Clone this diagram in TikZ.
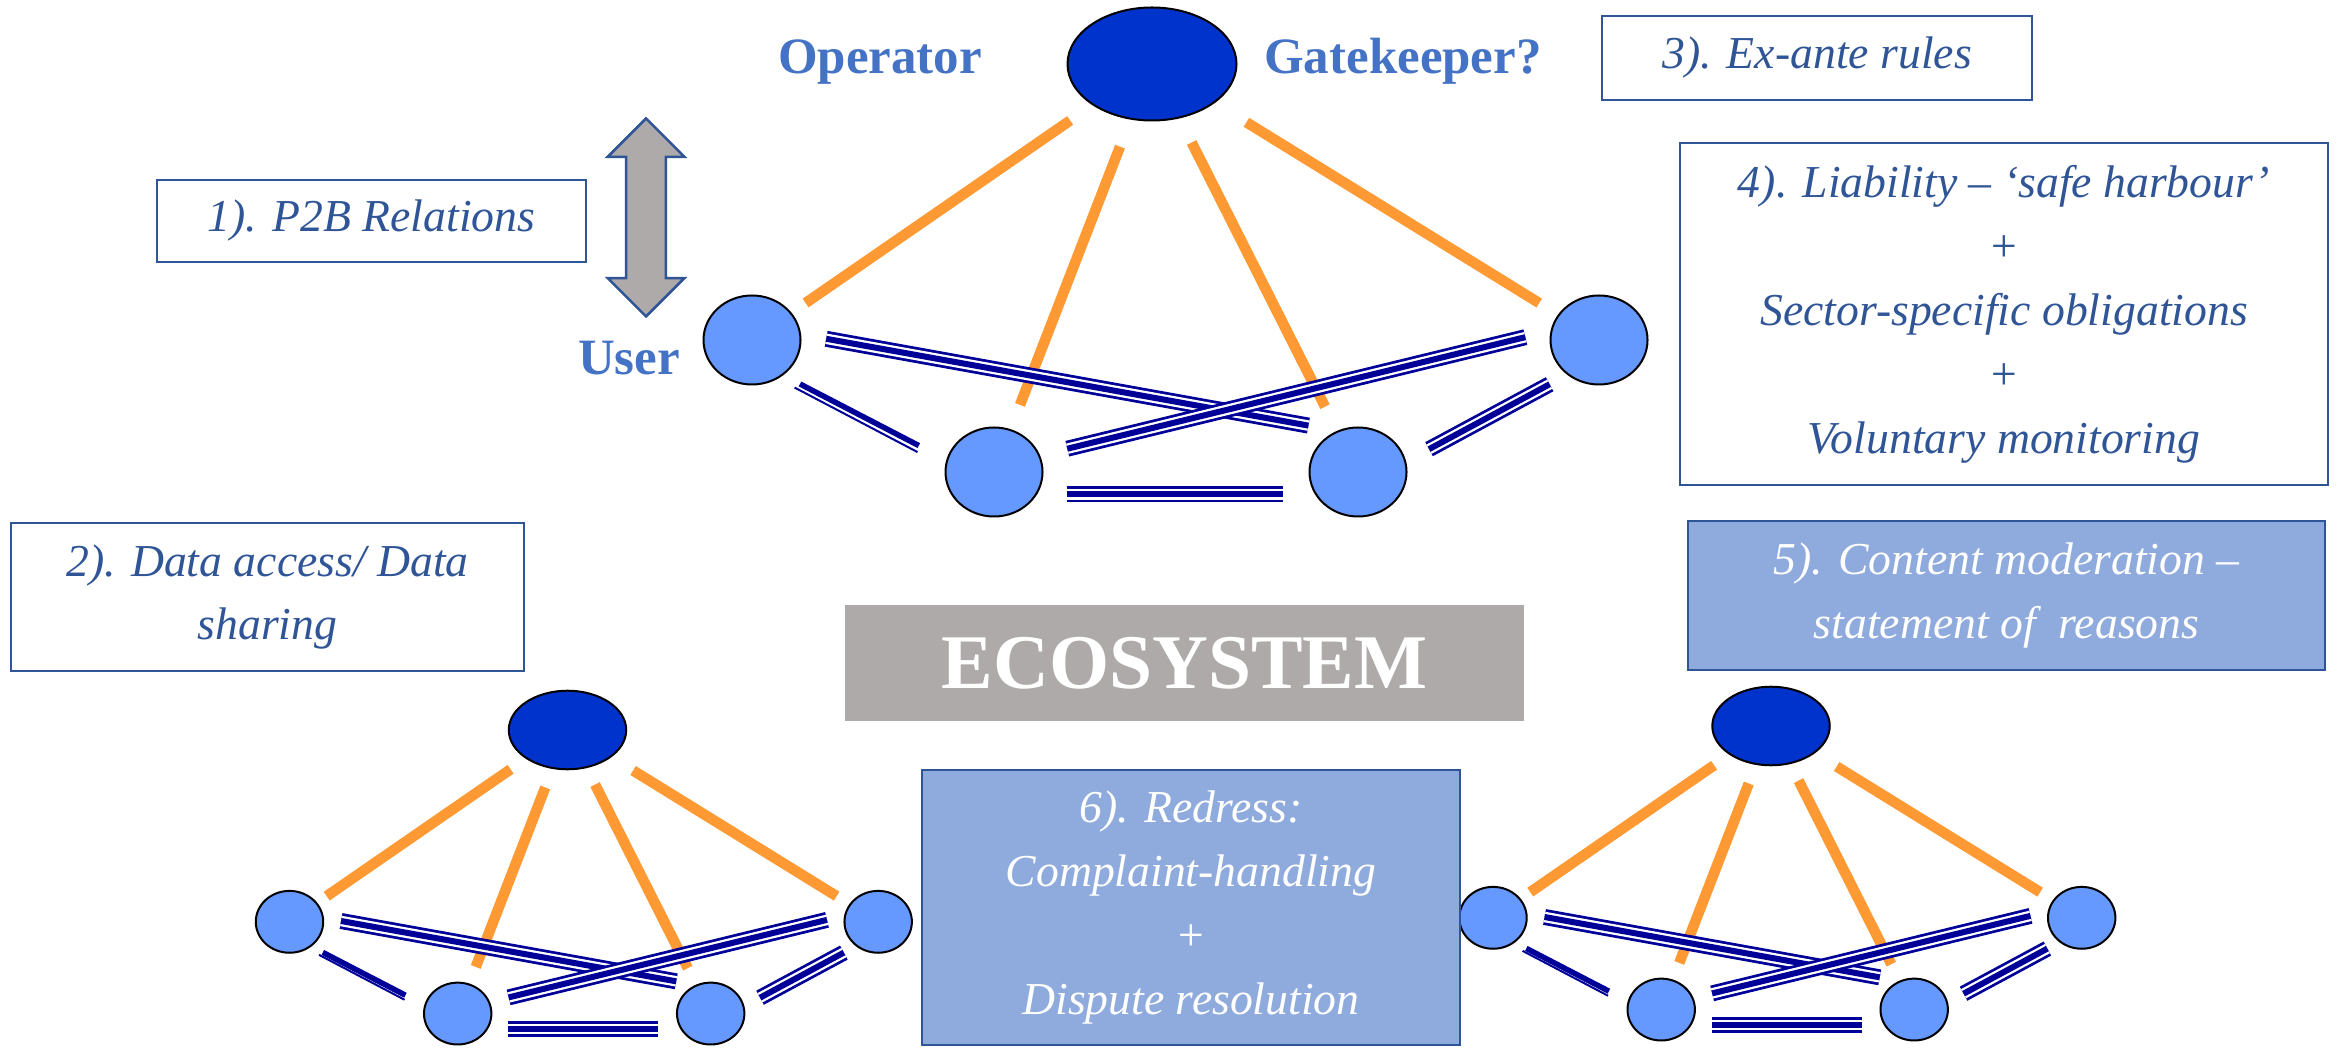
\documentclass[tikz,border=0pt]{standalone}
\usepackage{fontspec}
\setmainfont{Liberation Serif}
\usetikzlibrary{shapes.geometric,shapes.arrows}

\definecolor{opblue}{HTML}{0033CC}
\definecolor{userblue}{HTML}{6699FF}
\definecolor{spokeorange}{HTML}{FF9933}
\definecolor{linknavy}{HTML}{000099}
\definecolor{labelblue}{HTML}{4472C4}
\definecolor{boxblue}{HTML}{2F5597}
\definecolor{boxfill}{HTML}{8FAADC}
\definecolor{ecogrey}{HTML}{AEAAAA}

\newcommand\boxfont{\fontsize{13}{18.2}\selectfont\itshape}

\tikzset{
  platform/.style={ellipse, draw=black, line width=0.2mm, fill=opblue,
    minimum width=16.9mm, minimum height=11.3mm, inner sep=0pt, outer sep=0pt},
  user/.style={ellipse, draw=black, line width=0.2mm, fill=userblue,
    minimum width=9.7mm, minimum height=8.9mm, inner sep=0pt, outer sep=0pt},
  spoke/.style={draw=spokeorange, line width=1.05mm},
  triple/.style={draw=linknavy, line width=1.6mm,
    postaction={draw=white, line width=1.05mm},
    postaction={draw=linknavy, line width=0.6mm}},
  thickthin/.style={draw=linknavy, line width=0.55mm},
  lbl/.style={text=labelblue, font=\fontsize{14.5}{17}\selectfont\bfseries, inner sep=0pt},
  rulebox/.style={draw=boxblue, line width=0.2mm, text=boxblue, font=\boxfont,
    align=center, inner sep=0pt},
  filledbox/.style={rulebox, fill=boxfill, text=white},
  updown/.style={double arrow, draw=boxblue, line width=0.25mm, fill=ecogrey,
    rotate=90, minimum height=19.8mm, minimum width=7.4mm,
    double arrow head extend=1.85mm, inner xsep=0pt, inner ysep=1.87mm},
  pics/network/.style={code={
    \node[platform] (-op) at (0,0) {};
    \node[user] (-l) at (-400,276) {};
    \node[user] (-r) at (447,276) {};
    \node[user] (-bl) at (-158,408) {};
    \node[user] (-br) at (206,408) {};
    \foreach \u/\st/\en in {l/28/18, bl/30/27, br/28/28, r/38/23}
      \draw[spoke, shorten <=#1*\st*0.1mm, shorten >=#1*\en*0.1mm] (-op) -- (-\u);
    \draw[triple, shorten <=#1*2.65mm, shorten >=#1*3.1mm] (-l.7) -- (-br.115);
    \draw[triple, shorten <=#1*2.7mm, shorten >=#1*2.9mm] (-r.169) -- (-bl.20);
    \draw[triple, shorten <=#1*2.1mm, shorten >=#1*2.7mm] (-r.228) -- (-br.12);
    \draw[triple, shorten <=#1*3.1mm, shorten >=#1*3.35mm] (-bl.-28) -- (-br.208);
    \draw[thickthin, shorten <=#1*2mm, shorten >=#1*3.2mm] (-l.-49) -- (-bl.166);
    \draw[thickthin, line width=0.2mm, shorten <=#1*2mm, shorten >=#1*3.2mm] (-l.-57) -- (-bl.174);
  }}
}

\begin{document}
\begin{tikzpicture}[x=0.1mm, y=-0.1mm]
\useasboundingbox (0,0) rectangle (2340,1048);

\pic (top) at (1152,64) {network=1};
\pic[scale=0.695, transform shape] (left) at (567.5,730) {network=0.695};
\pic[scale=0.695, transform shape] (right) at (1771,726) {network=0.695};

\node[lbl, anchor=base] (operator) at (880,74) {Operator};
\node[lbl, anchor=base] (gatekeeper) at (1403,74) {Gatekeeper?};
\node[lbl, anchor=base] (user) at (629,375) {User};

\node[updown] (p2barrow) at (646,217.5) {};

\node[rulebox, minimum width=42.9mm, minimum height=8.2mm] (p2b) at (371.5,221)
  {1). P2B Relations};
\node[rulebox, minimum width=51.3mm, minimum height=14.8mm] (data) at (267.5,597)
  {2). Data access/ Data\\sharing};
\node[rulebox, minimum width=43mm, minimum height=8.4mm] (exante) at (1817,58)
  {3). Ex-ante rules};
\node[rulebox, minimum width=64.8mm, minimum height=34.2mm] (liability) at (2004,314)
  {4). Liability -- `safe harbour'\\+\\Sector-specific obligations\\+\\Voluntary monitoring};
\node[filledbox, minimum width=63.7mm, minimum height=14.9mm] (moderation) at (2006.5,595.5)
  {5). Content moderation --\\statement of\ \ reasons};
\node[filledbox, minimum width=53.8mm, minimum height=27.5mm] (redress) at (1191,907.5)
  {6). Redress:\\Complaint-handling\\+\\Dispute resolution};

\node[fill=ecogrey, minimum width=67.9mm, minimum height=11.6mm, text=white,
  font=\fontsize{22}{26}\selectfont\bfseries] (ecosystem) at (1184.5,663) {ECOSYSTEM};
\end{tikzpicture}
\end{document}
